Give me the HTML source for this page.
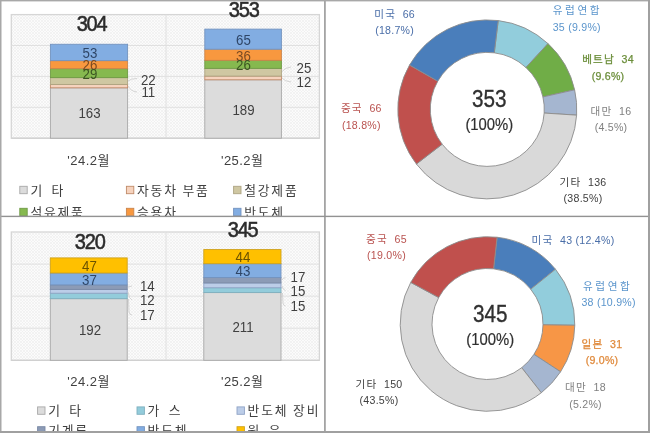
<!DOCTYPE html>
<html lang="ko"><head><meta charset="utf-8"><title>chart</title>
<style>
html,body{margin:0;padding:0;background:#fff;}
body{width:650px;height:433px;overflow:hidden;font-family:"Liberation Sans", "Noto Sans CJK KR", sans-serif;}
svg{display:block;position:absolute;left:0;top:0;}
svg text{font-family:"Liberation Sans", "Noto Sans CJK KR", sans-serif;}
</style></head><body>
<svg width="650" height="433" viewBox="0 0 650 433">
<defs>
<pattern id="hatch" width="3" height="3" patternUnits="userSpaceOnUse">
<rect width="3" height="3" fill="#fbfbfb"/>
<path d="M-1,1 L1,-1 M0,3 L3,0 M2,4 L4,2 M-1,2 L1,4 M0,0 L3,3 M2,-1 L4,1" stroke="#eeeeee" stroke-width="0.7"/>
</pattern>
<clipPath id="c1"><rect x="0" y="0" width="325" height="216"/></clipPath>
<clipPath id="c2"><rect x="0" y="216" width="325" height="215"/></clipPath>
</defs>
<rect width="650" height="433" fill="#ffffff"/>

<g clip-path="url(#c1)">
<rect x="11.3" y="14.6" width="308.09999999999997" height="123.6" fill="url(#hatch)" stroke="#d6d6d6" stroke-width="1.3"/>
<line x1="11.3" x2="319.4" y1="45.5" y2="45.5" stroke="#e0e0e0" stroke-width="1"/>
<line x1="11.3" x2="319.4" y1="76.4" y2="76.4" stroke="#e0e0e0" stroke-width="1"/>
<line x1="11.3" x2="319.4" y1="107.3" y2="107.3" stroke="#e0e0e0" stroke-width="1"/>
<line x1="166" x2="166" y1="14.6" y2="138.2" stroke="#e0e0e0" stroke-width="1"/>
<line x1="11.3" x2="319.4" y1="138.2" y2="138.2" stroke="#cfcfcf" stroke-width="1"/>
<rect x="50.4" y="87.83" width="77.2" height="50.37" fill="#dcdcdc" stroke="#a8a8a8" stroke-width="0.9"/>
<rect x="50.4" y="84.43" width="77.2" height="3.40" fill="#f6d3be" stroke="#c08a68" stroke-width="0.9"/>
<rect x="50.4" y="77.64" width="77.2" height="6.80" fill="#cfc7a2" stroke="#ada482" stroke-width="0.9"/>
<rect x="50.4" y="68.67" width="77.2" height="8.96" fill="#86b94f" stroke="#6f9a45" stroke-width="0.9"/>
<rect x="50.4" y="60.64" width="77.2" height="8.03" fill="#f8983f" stroke="#c9844c" stroke-width="0.9"/>
<rect x="50.4" y="44.26" width="77.2" height="16.38" fill="#82ade2" stroke="#7393bf" stroke-width="0.9"/>
<rect x="204.8" y="79.80" width="76.6" height="58.40" fill="#dcdcdc" stroke="#a8a8a8" stroke-width="0.9"/>
<rect x="204.8" y="76.09" width="76.6" height="3.71" fill="#f6d3be" stroke="#c08a68" stroke-width="0.9"/>
<rect x="204.8" y="68.37" width="76.6" height="7.72" fill="#cfc7a2" stroke="#ada482" stroke-width="0.9"/>
<rect x="204.8" y="60.33" width="76.6" height="8.03" fill="#86b94f" stroke="#6f9a45" stroke-width="0.9"/>
<rect x="204.8" y="49.21" width="76.6" height="11.12" fill="#f8983f" stroke="#c9844c" stroke-width="0.9"/>
<rect x="204.8" y="29.12" width="76.6" height="20.09" fill="#82ade2" stroke="#7393bf" stroke-width="0.9"/>
</g>
<g clip-path="url(#c2)">
<rect x="11.3" y="232.0" width="308.09999999999997" height="128.3" fill="url(#hatch)" stroke="#d6d6d6" stroke-width="1.3"/>
<line x1="11.3" x2="319.4" y1="264.1" y2="264.1" stroke="#e0e0e0" stroke-width="1"/>
<line x1="11.3" x2="319.4" y1="296.1" y2="296.1" stroke="#e0e0e0" stroke-width="1"/>
<line x1="11.3" x2="319.4" y1="328.2" y2="328.2" stroke="#e0e0e0" stroke-width="1"/>
<line x1="166" x2="166" y1="232.0" y2="360.3" stroke="#e0e0e0" stroke-width="1"/>
<line x1="11.3" x2="319.4" y1="360.3" y2="360.3" stroke="#cfcfcf" stroke-width="1"/>
<rect x="50.3" y="298.67" width="76.9" height="61.63" fill="#dcdcdc" stroke="#a8a8a8" stroke-width="0.9"/>
<rect x="50.3" y="293.21" width="76.9" height="5.46" fill="#93ccdb" stroke="#7fb0bf" stroke-width="0.9"/>
<rect x="50.3" y="289.36" width="76.9" height="3.85" fill="#bccde8" stroke="#8fa3c6" stroke-width="0.9"/>
<rect x="50.3" y="284.87" width="76.9" height="4.49" fill="#8c9bb6" stroke="#7888a4" stroke-width="0.9"/>
<rect x="50.3" y="272.99" width="76.9" height="11.88" fill="#82ade2" stroke="#7393bf" stroke-width="0.9"/>
<rect x="50.3" y="257.90" width="76.9" height="15.09" fill="#ffc000" stroke="#cfa21c" stroke-width="0.9"/>
<rect x="203.8" y="292.57" width="77.2" height="67.73" fill="#dcdcdc" stroke="#a8a8a8" stroke-width="0.9"/>
<rect x="203.8" y="287.75" width="77.2" height="4.82" fill="#93ccdb" stroke="#7fb0bf" stroke-width="0.9"/>
<rect x="203.8" y="282.94" width="77.2" height="4.82" fill="#bccde8" stroke="#8fa3c6" stroke-width="0.9"/>
<rect x="203.8" y="277.48" width="77.2" height="5.46" fill="#8c9bb6" stroke="#7888a4" stroke-width="0.9"/>
<rect x="203.8" y="263.68" width="77.2" height="13.80" fill="#82ade2" stroke="#7393bf" stroke-width="0.9"/>
<rect x="203.8" y="249.56" width="77.2" height="14.12" fill="#ffc000" stroke="#cfa21c" stroke-width="0.9"/>
</g>
<text transform="translate(91.5,31.2) scale(0.93,1)" font-size="21.5" fill="#2b2b2b" text-anchor="middle" font-weight="normal" stroke="#2b2b2b" stroke-width="0.55" letter-spacing="-1.3">304</text>
<text transform="translate(243.7,17.3) scale(0.93,1)" font-size="21.5" fill="#2b2b2b" text-anchor="middle" font-weight="normal" stroke="#2b2b2b" stroke-width="0.55" letter-spacing="-1.3">353</text>
<text transform="translate(90.0,57.8) scale(0.95,1)" font-size="14" fill="#2f4667" text-anchor="middle" font-weight="normal" >53</text>
<text transform="translate(90.0,70.4) scale(0.95,1)" font-size="14" fill="#7a4a22" text-anchor="middle" font-weight="normal" >26</text>
<text transform="translate(90.0,78.7) scale(0.95,1)" font-size="14" fill="#3c5523" text-anchor="middle" font-weight="normal" >29</text>
<text transform="translate(148.3,84.5) scale(0.95,1)" font-size="14" fill="#404040" text-anchor="middle" font-weight="normal" >22</text>
<text transform="translate(148.3,97.2) scale(0.95,1)" font-size="14" fill="#404040" text-anchor="middle" font-weight="normal" >11</text>
<text transform="translate(89.5,118.0) scale(0.95,1)" font-size="14" fill="#404040" text-anchor="middle" font-weight="normal" >163</text>
<text transform="translate(243.5,45.0) scale(0.95,1)" font-size="14" fill="#2f4667" text-anchor="middle" font-weight="normal" >65</text>
<text transform="translate(243.5,60.5) scale(0.95,1)" font-size="14" fill="#7a4a22" text-anchor="middle" font-weight="normal" >36</text>
<text transform="translate(243.5,70.0) scale(0.95,1)" font-size="14" fill="#3c5523" text-anchor="middle" font-weight="normal" >26</text>
<text transform="translate(304.0,73.0) scale(0.95,1)" font-size="14" fill="#404040" text-anchor="middle" font-weight="normal" >25</text>
<text transform="translate(304.0,87.0) scale(0.95,1)" font-size="14" fill="#404040" text-anchor="middle" font-weight="normal" >12</text>
<text transform="translate(243.5,114.5) scale(0.95,1)" font-size="14" fill="#404040" text-anchor="middle" font-weight="normal" >189</text>
<g fill="none" stroke="#d0d0d0" stroke-width="0.9">
<path d="M128,81 Q131,78.5 137,78.5"/><path d="M128,86 Q131,91.5 137,92"/>
<path d="M282,71.5 Q285,67.5 291,67"/><path d="M282,78 Q285,81.5 291,82"/>
</g>
<text x="88.6" y="164.7" font-size="13" fill="#404040" text-anchor="middle" font-weight="normal" letter-spacing="0.45">'24.2월</text>
<text x="242.2" y="164.7" font-size="13" fill="#404040" text-anchor="middle" font-weight="normal" letter-spacing="0.45">'25.2월</text>
<g clip-path="url(#c1)">
<rect x="19.8" y="186.3" width="7.4" height="7.4" fill="#dcdcdc" stroke="#a8a8a8" stroke-width="0.9"/>
<text x="30.4" y="194.6" font-size="12.8" fill="#404040" letter-spacing="1.8" word-spacing="2.2">기 타</text>
<rect x="126.4" y="186.3" width="7.4" height="7.4" fill="#f6d3be" stroke="#c08a68" stroke-width="0.9"/>
<text x="137.0" y="194.6" font-size="12.8" fill="#404040" letter-spacing="1.8" word-spacing="-0.6">자동차 부품</text>
<rect x="233.6" y="186.3" width="7.4" height="7.4" fill="#cfc7a2" stroke="#ada482" stroke-width="0.9"/>
<text x="244.2" y="194.6" font-size="12.8" fill="#404040" letter-spacing="1.8" word-spacing="-0.6">철강제품</text>
<rect x="19.8" y="208.3" width="7.4" height="7.4" fill="#86b94f" stroke="#6f9a45" stroke-width="0.9"/>
<text x="30.4" y="216.6" font-size="12.8" fill="#404040" letter-spacing="1.8" word-spacing="-0.6">석유제품</text>
<rect x="126.4" y="208.3" width="7.4" height="7.4" fill="#f8983f" stroke="#c9844c" stroke-width="0.9"/>
<text x="137.0" y="216.6" font-size="12.8" fill="#404040" letter-spacing="1.8" word-spacing="2.2">승용차</text>
<rect x="233.6" y="208.3" width="7.4" height="7.4" fill="#82ade2" stroke="#7393bf" stroke-width="0.9"/>
<text x="244.2" y="216.6" font-size="12.8" fill="#404040" letter-spacing="1.8" word-spacing="2.2">반도체</text>
</g>
<text transform="translate(89.7,248.7) scale(0.93,1)" font-size="21.5" fill="#2b2b2b" text-anchor="middle" font-weight="normal" stroke="#2b2b2b" stroke-width="0.55" letter-spacing="-1.3">320</text>
<text transform="translate(242.6,236.9) scale(0.93,1)" font-size="21.5" fill="#2b2b2b" text-anchor="middle" font-weight="normal" stroke="#2b2b2b" stroke-width="0.55" letter-spacing="-1.3">345</text>
<text transform="translate(89.5,270.7) scale(0.95,1)" font-size="14" fill="#6b5200" text-anchor="middle" font-weight="normal" >47</text>
<text transform="translate(89.5,285.0) scale(0.95,1)" font-size="14" fill="#2f4667" text-anchor="middle" font-weight="normal" >37</text>
<text transform="translate(147.3,290.5) scale(0.95,1)" font-size="14" fill="#404040" text-anchor="middle" font-weight="normal" >14</text>
<text transform="translate(147.3,305.0) scale(0.95,1)" font-size="14" fill="#404040" text-anchor="middle" font-weight="normal" >12</text>
<text transform="translate(147.3,320.2) scale(0.95,1)" font-size="14" fill="#404040" text-anchor="middle" font-weight="normal" >17</text>
<text transform="translate(90.0,334.5) scale(0.95,1)" font-size="14" fill="#404040" text-anchor="middle" font-weight="normal" >192</text>
<text transform="translate(243.0,262.0) scale(0.95,1)" font-size="14" fill="#6b5200" text-anchor="middle" font-weight="normal" >44</text>
<text transform="translate(243.0,276.0) scale(0.95,1)" font-size="14" fill="#2f4667" text-anchor="middle" font-weight="normal" >43</text>
<text transform="translate(298.0,282.3) scale(0.95,1)" font-size="14" fill="#404040" text-anchor="middle" font-weight="normal" >17</text>
<text transform="translate(298.0,295.7) scale(0.95,1)" font-size="14" fill="#404040" text-anchor="middle" font-weight="normal" >15</text>
<text transform="translate(298.0,311.0) scale(0.95,1)" font-size="14" fill="#404040" text-anchor="middle" font-weight="normal" >15</text>
<text transform="translate(243.0,332.0) scale(0.95,1)" font-size="14" fill="#404040" text-anchor="middle" font-weight="normal" >211</text>
<g fill="none" stroke="#d0d0d0" stroke-width="0.9">
<path d="M128,287 L132,286"/><path d="M128,292 Q129,299 132,300"/><path d="M128.5,299 L129,312 Q129.5,315 132,315"/>
<path d="M282,280 Q283,278 285.5,277.5"/><path d="M282,286 Q283,290 285.5,290.5"/><path d="M282.5,293 L283,303 Q283.5,306 285.5,306"/>
</g>
<text x="88.6" y="386.1" font-size="13" fill="#404040" text-anchor="middle" font-weight="normal" letter-spacing="0.45">'24.2월</text>
<text x="242.2" y="386.1" font-size="13" fill="#404040" text-anchor="middle" font-weight="normal" letter-spacing="0.45">'25.2월</text>
<g clip-path="url(#c2)">
<rect x="37.6" y="406.9" width="7.4" height="7.4" fill="#dcdcdc" stroke="#a8a8a8" stroke-width="0.9"/>
<text x="48.2" y="415.2" font-size="12.8" fill="#404040" letter-spacing="1.8" word-spacing="2.2">기 타</text>
<rect x="137.0" y="406.9" width="7.4" height="7.4" fill="#93ccdb" stroke="#7fb0bf" stroke-width="0.9"/>
<text x="147.6" y="415.2" font-size="12.8" fill="#404040" letter-spacing="1.8" word-spacing="2.2">가 스</text>
<rect x="237.0" y="406.9" width="7.4" height="7.4" fill="#bccde8" stroke="#8fa3c6" stroke-width="0.9"/>
<text x="247.6" y="415.2" font-size="12.8" fill="#404040" letter-spacing="1.8" word-spacing="-0.6">반도체 장비</text>
<rect x="37.6" y="426.7" width="7.4" height="7.4" fill="#8c9bb6" stroke="#7888a4" stroke-width="0.9"/>
<text x="48.2" y="435.0" font-size="12.8" fill="#404040" letter-spacing="1.8" word-spacing="2.2">기계류</text>
<rect x="137.0" y="426.7" width="7.4" height="7.4" fill="#82ade2" stroke="#7393bf" stroke-width="0.9"/>
<text x="147.6" y="435.0" font-size="12.8" fill="#404040" letter-spacing="1.8" word-spacing="2.2">반도체</text>
<rect x="237.0" y="426.7" width="7.4" height="7.4" fill="#ffc000" stroke="#cfa21c" stroke-width="0.9"/>
<text x="247.6" y="435.0" font-size="12.8" fill="#404040" letter-spacing="1.8" word-spacing="2.2">원 유</text>
</g>
<path d="M498.21,20.57 A89.5,89.5 0 0 1 547.99,43.62 L525.95,67.51 A57,57 0 0 0 494.25,52.82 Z" fill="#92cddc" stroke="#8c8c8c" stroke-width="0.9" stroke-linejoin="round"/>
<path d="M547.99,43.62 A89.5,89.5 0 0 1 574.63,89.83 L542.92,96.94 A57,57 0 0 0 525.95,67.51 Z" fill="#70ad47" stroke="#8c8c8c" stroke-width="0.9" stroke-linejoin="round"/>
<path d="M574.63,89.83 A89.5,89.5 0 0 1 576.61,115.15 L544.18,113.06 A57,57 0 0 0 542.92,96.94 Z" fill="#a5b6d0" stroke="#8c8c8c" stroke-width="0.9" stroke-linejoin="round"/>
<path d="M576.61,115.15 A89.5,89.5 0 0 1 416.41,164.03 L442.15,144.19 A57,57 0 0 0 544.18,113.06 Z" fill="#d9d9d9" stroke="#8c8c8c" stroke-width="0.9" stroke-linejoin="round"/>
<path d="M416.41,164.03 A89.5,89.5 0 0 1 409.55,65.07 L437.78,81.17 A57,57 0 0 0 442.15,144.19 Z" fill="#c0504d" stroke="#8c8c8c" stroke-width="0.9" stroke-linejoin="round"/>
<path d="M409.55,65.07 A89.5,89.5 0 0 1 498.21,20.57 L494.25,52.82 A57,57 0 0 0 437.78,81.17 Z" fill="#4a7ebb" stroke="#8c8c8c" stroke-width="0.9" stroke-linejoin="round"/>
<path d="M497.08,237.23 A87.3,87.3 0 0 1 555.51,269.26 L530.73,289.20 A55.5,55.5 0 0 0 493.59,268.84 Z" fill="#4a7ebb" stroke="#8c8c8c" stroke-width="0.9" stroke-linejoin="round"/>
<path d="M555.51,269.26 A87.3,87.3 0 0 1 574.79,325.25 L542.99,324.80 A55.5,55.5 0 0 0 530.73,289.20 Z" fill="#92cddc" stroke="#8c8c8c" stroke-width="0.9" stroke-linejoin="round"/>
<path d="M574.79,325.25 A87.3,87.3 0 0 1 560.57,371.76 L533.96,354.37 A55.5,55.5 0 0 0 542.99,324.80 Z" fill="#f79646" stroke="#8c8c8c" stroke-width="0.9" stroke-linejoin="round"/>
<path d="M560.57,371.76 A87.3,87.3 0 0 1 541.30,392.75 L521.71,367.71 A55.5,55.5 0 0 0 533.96,354.37 Z" fill="#a5b6d0" stroke="#8c8c8c" stroke-width="0.9" stroke-linejoin="round"/>
<path d="M541.30,392.75 A87.3,87.3 0 0 1 410.76,282.38 L438.71,297.54 A55.5,55.5 0 0 0 521.71,367.71 Z" fill="#d9d9d9" stroke="#8c8c8c" stroke-width="0.9" stroke-linejoin="round"/>
<path d="M410.76,282.38 A87.3,87.3 0 0 1 497.08,237.23 L493.59,268.84 A55.5,55.5 0 0 0 438.71,297.54 Z" fill="#c0504d" stroke="#8c8c8c" stroke-width="0.9" stroke-linejoin="round"/>
<text transform="translate(489.3,107.4) scale(0.9,1)" font-size="23" fill="#303030" text-anchor="middle" font-weight="normal" stroke="#303030" stroke-width="0.35">353</text>
<text transform="translate(489.3,129.5) scale(0.9,1)" font-size="16.5" fill="#303030" text-anchor="middle" font-weight="normal" stroke="#303030" stroke-width="0.2">(100%)</text>
<text x="394.6" y="17.7" font-size="10.6" fill="#4a6ea8" text-anchor="middle" font-weight="normal"><tspan letter-spacing="1.2">미국</tspan><tspan dx="3.4" letter-spacing="0.25"> 66</tspan></text>
<text x="394.6" y="34.3" font-size="10.6" fill="#4a6ea8" text-anchor="middle" font-weight="normal" letter-spacing="0.25">(18.7%)</text>
<text x="552.7" y="14.0" font-size="10.6" fill="#5b95cc" text-anchor="start" font-weight="normal" letter-spacing="2.6">유럽연합</text>
<text x="552.7" y="30.8" font-size="10.6" fill="#5b95cc" text-anchor="start" font-weight="normal" letter-spacing="0.25">35 (9.9%)</text>
<text x="608.0" y="62.8" font-size="10.6" fill="#6b8e3a" text-anchor="middle" font-weight="normal" stroke="#6b8e3a" stroke-width="0.25"><tspan letter-spacing="1.2">베트남</tspan><tspan dx="3.4" letter-spacing="0.25"> 34</tspan></text>
<text x="608.0" y="79.7" font-size="10.6" fill="#6b8e3a" text-anchor="middle" font-weight="normal" letter-spacing="0.25" stroke="#6b8e3a" stroke-width="0.25">(9.6%)</text>
<text x="611.0" y="115.0" font-size="10.6" fill="#808080" text-anchor="middle" font-weight="normal"><tspan letter-spacing="1.2">대만</tspan><tspan dx="3.4" letter-spacing="0.25"> 16</tspan></text>
<text x="611.0" y="131.4" font-size="10.6" fill="#808080" text-anchor="middle" font-weight="normal" letter-spacing="0.25">(4.5%)</text>
<text x="583.0" y="185.6" font-size="10.6" fill="#404040" text-anchor="middle" font-weight="normal"><tspan letter-spacing="1.2">기타</tspan><tspan dx="3.4" letter-spacing="0.25"> 136</tspan></text>
<text x="583.0" y="202.0" font-size="10.6" fill="#404040" text-anchor="middle" font-weight="normal" letter-spacing="0.25">(38.5%)</text>
<text x="361.3" y="111.8" font-size="10.6" fill="#b9524f" text-anchor="middle" font-weight="normal"><tspan letter-spacing="1.2">중국</tspan><tspan dx="3.4" letter-spacing="0.25"> 66</tspan></text>
<text x="361.3" y="128.6" font-size="10.6" fill="#b9524f" text-anchor="middle" font-weight="normal" letter-spacing="0.25">(18.8%)</text>
<text transform="translate(490.2,322.4) scale(0.9,1)" font-size="23" fill="#303030" text-anchor="middle" font-weight="normal" stroke="#303030" stroke-width="0.35">345</text>
<text transform="translate(490.2,344.5) scale(0.9,1)" font-size="16.5" fill="#303030" text-anchor="middle" font-weight="normal" stroke="#303030" stroke-width="0.2">(100%)</text>
<text x="386.5" y="242.6" font-size="10.6" fill="#b9524f" text-anchor="middle" font-weight="normal"><tspan letter-spacing="1.2">중국</tspan><tspan dx="3.4" letter-spacing="0.25"> 65</tspan></text>
<text x="386.5" y="259.1" font-size="10.6" fill="#b9524f" text-anchor="middle" font-weight="normal" letter-spacing="0.25">(19.0%)</text>
<text x="573.0" y="243.5" font-size="10.6" fill="#4a6ea8" text-anchor="middle" font-weight="normal"><tspan letter-spacing="1.2">미국</tspan><tspan dx="3.4" letter-spacing="0.25"> 43 (12.4%)</tspan></text>
<text x="607.7" y="289.8" font-size="10.6" fill="#5b95cc" text-anchor="middle" font-weight="normal" letter-spacing="2.6">유럽연합</text>
<text x="608.6" y="305.5" font-size="10.6" fill="#5b95cc" text-anchor="middle" font-weight="normal" letter-spacing="0.25">38 (10.9%)</text>
<text x="602.0" y="347.8" font-size="10.6" fill="#e08a3c" text-anchor="middle" font-weight="normal" stroke="#e08a3c" stroke-width="0.25"><tspan letter-spacing="1.2">일본</tspan><tspan dx="3.4" letter-spacing="0.25"> 31</tspan></text>
<text x="602.0" y="363.9" font-size="10.6" fill="#e08a3c" text-anchor="middle" font-weight="normal" letter-spacing="0.25" stroke="#e08a3c" stroke-width="0.25">(9.0%)</text>
<text x="585.5" y="391.1" font-size="10.6" fill="#808080" text-anchor="middle" font-weight="normal"><tspan letter-spacing="1.2">대만</tspan><tspan dx="3.4" letter-spacing="0.25"> 18</tspan></text>
<text x="585.5" y="407.8" font-size="10.6" fill="#808080" text-anchor="middle" font-weight="normal" letter-spacing="0.25">(5.2%)</text>
<text x="379.0" y="388.0" font-size="10.6" fill="#404040" text-anchor="middle" font-weight="normal"><tspan letter-spacing="1.2">기타</tspan><tspan dx="3.4" letter-spacing="0.25"> 150</tspan></text>
<text x="379.0" y="404.1" font-size="10.6" fill="#404040" text-anchor="middle" font-weight="normal" letter-spacing="0.25">(43.5%)</text>
<rect x="324" y="0" width="1.8" height="433" fill="#a4a4a4"/>
<rect x="0" y="215.7" width="650" height="1.4" fill="#929292"/>
<rect x="0" y="0" width="650" height="1.4" fill="#a8a8a8"/>
<rect x="0" y="0" width="1.5" height="433" fill="#a8a8a8"/>
<rect x="648" y="0" width="2" height="433" fill="#a0a0a0"/>
<rect x="0" y="431" width="650" height="2" fill="#a0a0a0"/>
</svg></body></html>
